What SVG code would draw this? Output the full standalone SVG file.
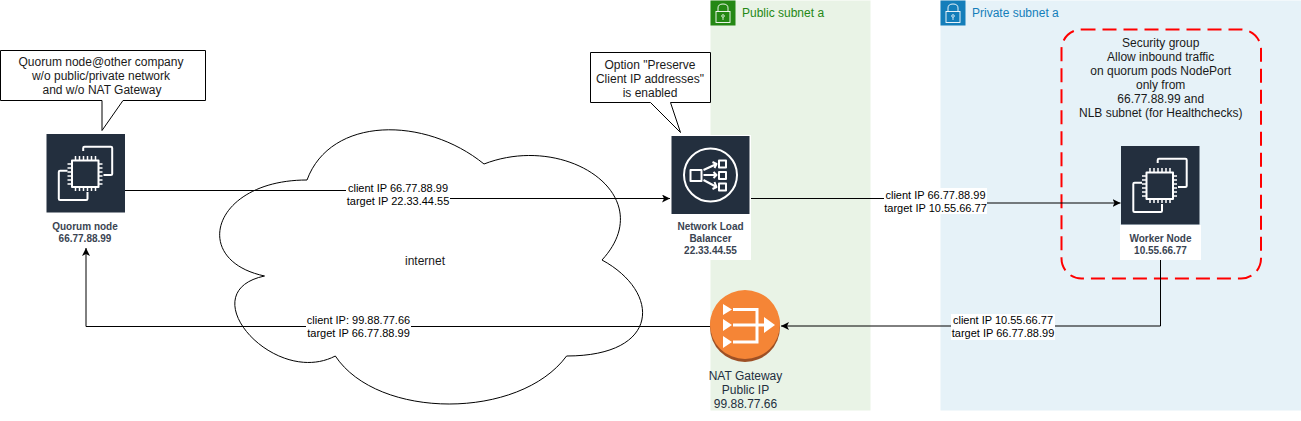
<svg xmlns="http://www.w3.org/2000/svg" width="1301" height="421" viewBox="0 0 1301 421">
<style>
text{font-family:"Liberation Sans",Arial,sans-serif;text-anchor:middle;fill:#1a1a1a}
.t12{font-size:12px}
.lbl{font-size:11px;fill:#000}
.res{font-size:10px;font-weight:bold;fill:#3a4452}
.nat{font-size:12px;fill:#232F3E}
.sub{font-size:12px;text-anchor:start}
.ln{fill:none;stroke:#000;stroke-width:1}
.wh{fill:#fff;stroke:none}
.shape{fill:#fff;stroke:#000;stroke-width:1}
.ic{fill:none;stroke:#fff;stroke-width:2;stroke-linejoin:round}
.ict{fill:none;stroke:#fff;stroke-width:1.5}
</style>
<defs>
<marker id="arr" markerWidth="10" markerHeight="10" refX="8" refY="4" orient="auto" markerUnits="userSpaceOnUse"><path d="M0,0 L8,4 L0,8 L2,4 Z" fill="#000"/></marker>
<g id="ec2">
<rect width="78.5" height="78.5" fill="#232F3E"/>
<path class="ic" d="M36.7,17V14Q36.7,12.7 38,12.7H64.400Q65.700,12.700 65.700,14V40Q65.700,41 64.400,41H57"/>
<path class="ic" d="M21,36.700H13.600Q12.300,36.700 12.300,38V64.700Q12.300,66 13.600,66H39.700Q41,66 41,64.700V58"/>
<rect class="ic" x="25.500" y="26.500" width="26.500" height="26.500"/>
<path class="ict" d="M29,26V22M33,26V22M37,26V22M41,26V22M45,26V22M49,26V22M29,57V53M33,57V53M37,57V53M41,57V53M45,57V53M49,57V53M21,30H25M21,34H25M21,38H25M21,42H25M21,46H25M21,50H25M52,30H56M52,34H56M52,38H56M52,42H56M52,46H56M52,50H56"/>
</g>
<g id="lock">
<path d="M7.500,11V7.500Q7.500,3.500 12.500,3.500Q17.500,3.500 17.500,7.500V11" fill="none" stroke="#fff" stroke-width="0.9"/>
<rect x="5.500" y="11" width="14" height="11" fill="none" stroke="#fff" stroke-width="0.9"/>
<circle cx="12.500" cy="15.500" r="1.300" fill="none" stroke="#fff" stroke-width="0.8"/>
<path d="M12.500,17V19.500" stroke="#fff" stroke-width="0.8"/>
</g>
</defs>

<g id="public-subnet">
<rect x="710.500" y="0.500" width="160" height="410" fill="#E9F3E6"/>
<rect x="710.500" y="0.500" width="25" height="25" fill="#248814"/>
<use href="#lock" x="710.500" y="0.500"/>
<text class="sub" x="742" y="17" style="fill:#248814">Public subnet a</text>
</g>
<g id="private-subnet">
<rect x="940.500" y="0.500" width="360.500" height="410" fill="#E6F2F8"/>
<rect x="940.500" y="0.500" width="25" height="25" fill="#147EBA"/>
<use href="#lock" x="940.500" y="0.500"/>
<text class="sub" x="972" y="17" style="fill:#147EBA">Private subnet a</text>
</g>

<g id="internet">
<path class="shape" d="M307,180C212.600,180 189,260 264.520,276C189,292 273.960,388 335.320,356C377.800,420 519.400,420 566.600,356C661,356 661,292 602,260C661,196 566.600,132 484,164C425,116 330.600,116 307,180Z"/>
<text class="t12" x="425" y="265">internet</text>
</g>

<g id="security-group">
<rect x="1061.500" y="29.500" width="199.500" height="249" rx="20" ry="20" fill="none" stroke="#f00" stroke-width="2" stroke-dasharray="14 7"/>
<text class="t12" x="1160.700" y="47">Security group</text>
<text class="t12" x="1160.700" y="61">Allow inbound traffic</text>
<text class="t12" x="1160.700" y="75">on quorum pods NodePort</text>
<text class="t12" x="1160.700" y="89">only from</text>
<text class="t12" x="1160.700" y="103">66.77.88.99 and</text>
<text class="t12" x="1160.700" y="117">NLB subnet (for Healthchecks)</text>
</g>

<g id="connectors">
<path class="ln" d="M125,190.500H397V198.500H670" marker-end="url(#arr)"/>
<path class="ln" d="M750,198.500H935V203H1120.500" marker-end="url(#arr)"/>
<path class="ln" d="M1160.500,260V326H781" marker-end="url(#arr)"/>
<path class="ln" d="M710,326.500H86V248" marker-end="url(#arr)"/>
<rect class="wh" x="346" y="182" width="104" height="26"/>
<text class="lbl" x="398" y="192">client IP 66.77.88.99</text>
<text class="lbl" x="398" y="205">target IP 22.33.44.55</text>
<rect class="wh" x="884" y="188" width="103" height="26"/>
<text class="lbl" x="935.500" y="199">client IP 66.77.88.99</text>
<text class="lbl" x="935.500" y="212">target IP 10.55.66.77</text>
<rect class="wh" x="951" y="314" width="104" height="26"/>
<text class="lbl" x="1003" y="324">client IP 10.55.66.77</text>
<text class="lbl" x="1003" y="337">target IP 66.77.88.99</text>
<rect class="wh" x="306" y="314" width="105" height="26"/>
<text class="lbl" x="358.500" y="324">client IP: 99.88.77.66</text>
<text class="lbl" x="358.500" y="337">target IP 66.77.88.99</text>
</g>

<g id="callout-quorum">
<path class="shape" d="M0.500,50.500H205.500V100.500H123L102,130.500V100.500H0.500Z"/>
<text class="t12" x="101" y="66">Quorum node@other company</text>
<text class="t12" x="101" y="80">w/o public/private network</text>
<text class="t12" x="102" y="94">and w/o NAT Gateway</text>
</g>
<g id="callout-nlb">
<path class="shape" d="M590.500,52.500H710.500V102.500H670.500L680.500,132.500L650.500,102.500H590.500Z"/>
<text class="t12" x="650" y="69">Option "Preserve</text>
<text class="t12" x="650" y="83">Client IP addresses"</text>
<text class="t12" x="650" y="97">is enabled</text>
</g>

<g id="quorum-node">
<use href="#ec2" x="46.500" y="134"/>
<text class="res" x="85" y="230">Quorum node</text>
<text class="res" x="85" y="242">66.77.88.99</text>
</g>
<g id="nlb">
<rect class="wh" x="670" y="135" width="81" height="125"/>
<rect x="671.500" y="136" width="78" height="78" fill="#232F3E"/>
<g transform="translate(671.500,136)">
<circle class="ic" cx="39" cy="39" r="26.500"/>
<rect class="ic" x="19" y="34" width="11" height="11"/>
<rect class="ic" x="47.500" y="24.500" width="7" height="7"/>
<rect class="ic" x="47.500" y="36" width="7" height="7"/>
<rect class="ic" x="47.500" y="47.500" width="7" height="7"/>
<path class="ic" d="M32,34L45,28M41,26L45,28L43,32M32,39H45M42,36L45,39L42,42M32,44L45,51M43,46L45,51L41,53"/>
</g>
<text class="res" x="710.500" y="230">Network Load</text>
<text class="res" x="710.500" y="242">Balancer</text>
<text class="res" x="710.500" y="254">22.33.44.55</text>
</g>
<g id="worker-node">
<rect class="wh" x="1120" y="225" width="81" height="35"/>
<use href="#ec2" x="1121" y="146"/>
<text class="res" x="1160.500" y="242">Worker Node</text>
<text class="res" x="1160.500" y="254">10.55.66.77</text>
</g>
<g id="nat-gateway">
<ellipse cx="745" cy="327" rx="35" ry="35" fill="#9D5025"/>
<ellipse cx="745" cy="324.500" rx="35" ry="34.500" fill="#F58536"/>
<path d="M733,309.500H757V325M733,325H766M733,342H757V325" fill="none" stroke="#fff" stroke-width="3"/>
<path d="M723,304L732,309.500L723,315ZM723,319L732,325L723,331ZM723,336L732,342L723,348ZM764,317L775,325L764,333Z" fill="#fff"/>
<text class="nat" x="745.500" y="380">NAT Gateway</text>
<text class="nat" x="745.500" y="394">Public IP</text>
<text class="nat" x="745.500" y="408">99.88.77.66</text>
</g>
</svg>
